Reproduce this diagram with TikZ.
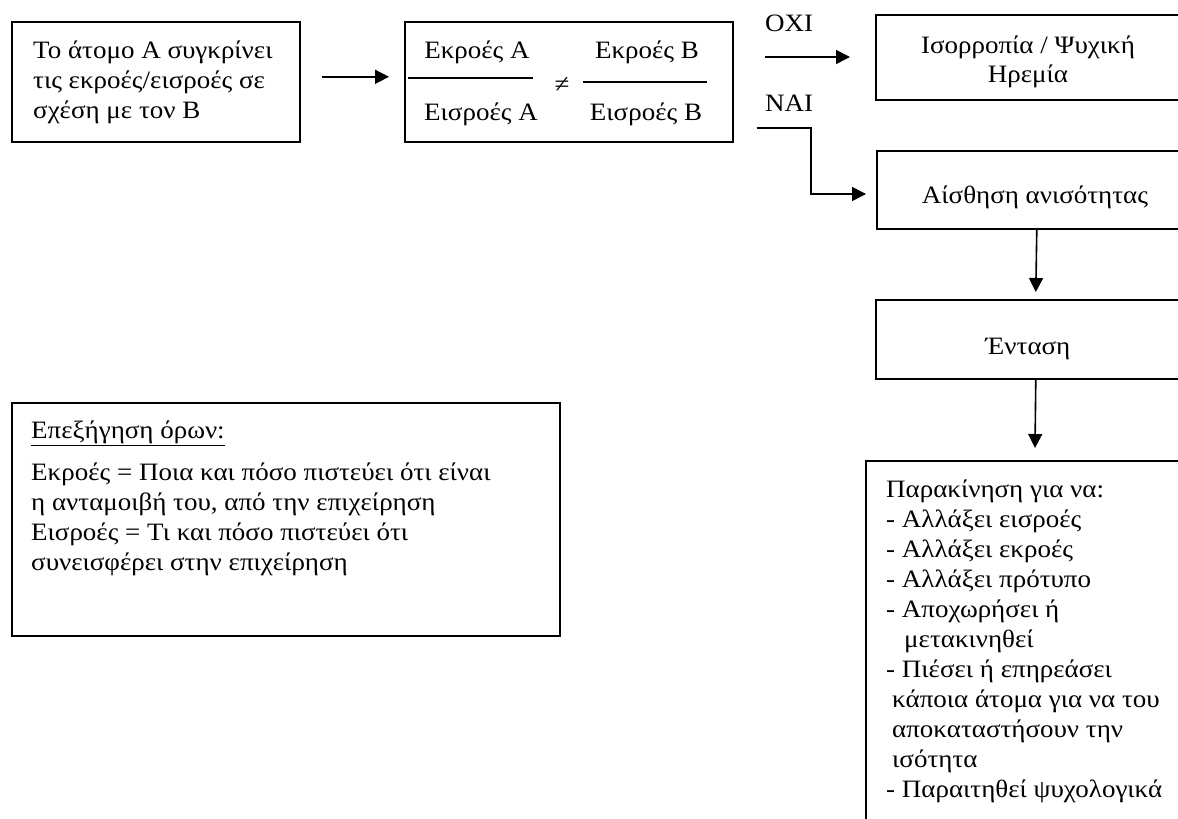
\documentclass[tikz,border=0pt]{standalone}
\usepackage{fontspec}
\setmainfont{Liberation Serif}[FakeStretch=1.08]
\usetikzlibrary{arrows.meta,calc}
\newcommand\diagfont{\fontsize{25}{30}\selectfont}

\begin{document}
\begin{tikzpicture}[x=1pt,y=-1pt,
  box/.style={draw, line width=1.6pt, inner sep=0pt, anchor=north west},
  txt/.style={inner sep=0pt, anchor=base west, font=\diagfont},
  ctxt/.style={inner sep=0pt, anchor=base, font=\diagfont},
  arr/.style={line width=1.6pt, -{Triangle[length=14pt,width=14pt]}},
  rule/.style={line width=1.6pt},
]
\useasboundingbox (0,0) rectangle (1178,819);
\fill[white] (0,0) rectangle (1178,819);
\clip (0,0) rectangle (1178,819);

% boxes
\node[box, minimum width=288pt, minimum height=120pt] (b1) at (11,21) {};
\node[box, minimum width=328pt, minimum height=120pt] (b2) at (404,21) {};
\node[box, minimum width=320pt, minimum height=85pt]  (b3) at (875,14) {};
\node[box, minimum width=320pt, minimum height=78pt]  (b4) at (876,150) {};
\node[box, minimum width=320pt, minimum height=79pt]  (b5) at (875,299) {};
\node[box, minimum width=400pt, minimum height=440pt] (b6) at (865,460) {};
\node[box, minimum width=548pt, minimum height=233pt] (leg) at (11,402) {};

% first box
\node[txt] (t1) at (33,58) {\vtop{\hbox{Το άτομο Α συγκρίνει}\hbox{τις εκροές/εισροές σε}\hbox{σχέση με τον Β}}};

% ratio comparison
\node[ctxt] (na) at (477,58) {Εκροές Α};
\node[ctxt] (da) at (481,120) {Εισροές Α};
\node[ctxt] (nb) at (647,58) {Εκροές Β};
\node[ctxt] (db) at (646,120) {Εισροές Β};
\node[inner sep=0pt, font=\diagfont] (neq) at (562,85) {≠};
\draw[rule] (408,78) -- (533,78);
\draw[rule] (583,82) -- (707,82);

% branch labels
\node[txt] (oxi) at (765,31) {ΟΧΙ};
\node[txt] (nai) at (765,111) {ΝΑΙ};

% right column texts
\node[ctxt] (t3a) at (1028,53) {Ισορροπία / Ψυχική};
\node[ctxt] (t3b) at (1028,82) {Ηρεμία};
\node[ctxt] (t4) at (1035,203) {Αίσθηση ανισότητας};
\node[ctxt] (t5) at (1028,354) {Ένταση};
\node[txt] (t6) at (886,497) {\vtop{%
  \hbox{Παρακίνηση για να:}
  \hbox{- Αλλάξει εισροές}
  \hbox{- Αλλάξει εκροές}
  \hbox{- Αλλάξει πρότυπο}
  \hbox{- Αποχωρήσει ή}
  \hbox{\hspace{18pt}μετακινηθεί}
  \hbox{- Πιέσει ή επηρεάσει}
  \hbox{\hspace{6pt}κάποια άτομα για να του}
  \hbox{\hspace{6pt}αποκαταστήσουν την}
  \hbox{\hspace{6pt}ισότητα}
  \hbox{- Παραιτηθεί ψυχολογικά}}};

% legend
\node[txt] (lh) at (31,438) {\underline{Επεξήγηση όρων:}};
\node[txt] (lb) at (31,480) {\vtop{%
  \hbox{Εκροές = Ποια και πόσο πιστεύει ότι είναι}
  \hbox{η ανταμοιβή του, από την επιχείρηση}
  \hbox{Εισροές = Τι και πόσο πιστεύει ότι}
  \hbox{συνεισφέρει στην επιχείρηση}}};

% connectors
\draw[arr] ([shift={(21,-5)}]b1.east) -- ([shift={(-15,-5)}]b2.west);
\draw[arr] ([shift={(31,36)}]b2.north east) -- ([shift={(-25,43)}]b3.north west);
\draw[arr] ([shift={(23,107)}]b2.north east) -| ([shift={(-65,44)}]b4.north west) -- ([shift={(-10,44)}]b4.north west);
\draw[arr] (b4.south) -- ([yshift=7]b5.north);
\draw[arr] (b5.south) -- ([shift={(170,-12)}]b6.north west);
\end{tikzpicture}
\end{document}
